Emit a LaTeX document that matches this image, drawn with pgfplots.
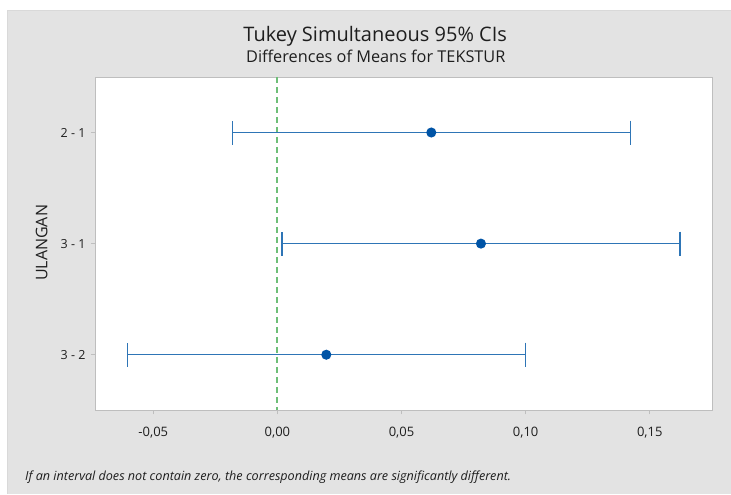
\documentclass[border=0pt]{standalone}
\usepackage{pgfplots}
\pgfplotsset{compat=1.18}
\usepackage{fontspec}
\setmainfont{Open Sans}
\definecolor{panelgray}{RGB}{227,227,227}
\definecolor{framegray}{RGB}{190,190,190}
\definecolor{cibar}{RGB}{46,117,182}
\definecolor{cidot}{RGB}{0,84,166}
\definecolor{zerogreen}{RGB}{110,190,120}
\definecolor{txt}{RGB}{30,30,30}
\begin{document}
\begin{tikzpicture}
\fill[white] (0pt,0pt) rectangle (731pt,494pt);
\fill[panelgray] (7pt,0pt) rectangle (731pt,484pt);
\draw[white!85!black, line width=0.8pt] (7pt,0pt) -- (7pt,484pt) -- (731pt,484pt);
\begin{axis}[
  at={(95pt,83.5pt)}, anchor=south west,
  scale only axis, width=617.7pt, height=333.5pt,
  xmin=-0.0735, xmax=0.1752,
  ymin=0.5, ymax=3.5, y dir=reverse,
  ytick={1,2,3}, yticklabels={2 - 1,3 - 1,3 - 2},
  xtick={-0.05,0,0.05,0.1,0.15},
  /pgf/number format/.cd, fixed, fixed zerofill, precision=2, use comma, assume math mode=true,
  /pgfplots/.cd,
  axis background/.style={fill=white},
  axis line style={draw=framegray, line width=0.8pt},
  tick align=outside, tick pos=left, major tick length=4pt,
  tick style={draw=framegray, line width=0.6pt},
  xticklabel style={font=\fontsize{13}{15}\selectfont, text=txt, yshift=-9pt},
  yticklabel style={font=\fontsize{12.5}{15}\selectfont, text=txt, xshift=-2pt},
  clip=false,
]
\addplot[draw=zerogreen, color=zerogreen, line width=2pt, dash pattern=on 6pt off 4pt, no markers] coordinates {(0,0.5) (0,3.5)};
\addplot[draw=cibar, line width=1.4pt, only marks, mark=*, mark options={draw=cidot, fill=cidot, mark size=4.3pt},
  error bars/.cd, x dir=both, x explicit,
  error bar style={draw=cibar, line width=1.4pt},
  error mark options={draw=cibar, fill=cibar, color=cibar, line width=1.4pt, mark size=12pt, rotate=90}]
  coordinates {
    (0.0620,1) +- (0.0802,0)
    (0.0820,2) +- (0.0802,0)
    (0.0197,3) +- (0.0802,0)
  };
\end{axis}
\node[anchor=base, text=txt, font=\fontsize{20}{22}\selectfont] at (375.4pt,452.3pt) {Tukey Simultaneous 95\% CIs};
\node[anchor=base, text=txt, font=\fontsize{16.3}{18}\selectfont] at (376pt,431.7pt) {Differences of Means for TEKSTUR};
\node[rotate=90, text=txt, font=\fontsize{16}{18}\selectfont] at (41.7pt,251pt) {ULANGAN};
\node[anchor=base west, text=txt, font=\fontsize{12.6}{14}\selectfont\itshape, inner sep=0pt] at (25pt,13pt) {If an interval does not contain zero, the corresponding means are significantly different.};
\end{tikzpicture}
\end{document}
